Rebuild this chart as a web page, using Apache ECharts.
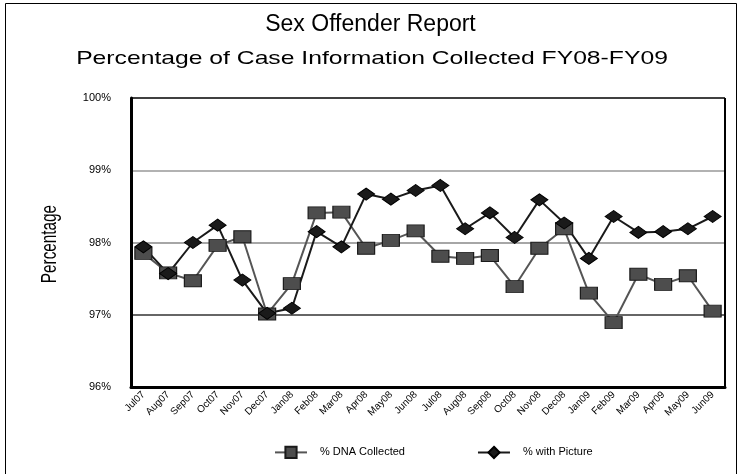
<!DOCTYPE html>
<html>
<head>
<meta charset="utf-8">
<script src="https://cdn.jsdelivr.net/npm/echarts@6/dist/echarts.min.js"></script>
<style>
  html, body { margin: 0; padding: 0; background: #fff; }
  #main { width: 741px; height: 474px; }
</style>
</head>
<body>
<div id="main"></div>
<script>
const months = ['Jul07', 'Aug07', 'Sep07', 'Oct07', 'Nov07', 'Dec07', 'Jan08', 'Feb08', 'Mar08', 'Apr08', 'May08', 'Jun08',
    'Jul08', 'Aug08', 'Sep08', 'Oct08', 'Nov08', 'Dec08', 'Jan09', 'Feb09', 'Mar09', 'Apr09', 'May09', 'Jun09'];
const dnaCollected = [97.85, 97.58, 97.47, 97.96, 98.08, 97.01, 97.43, 98.41, 98.42, 97.92, 98.03, 98.16,
    97.81, 97.78, 97.82, 97.39, 97.92, 98.19, 97.30, 96.89, 97.56, 97.42, 97.54, 97.05];
const withPicture = [97.94, 97.57, 98.00, 98.24, 97.48, 97.02, 97.09, 98.15, 97.94, 98.67, 98.60, 98.72,
    98.79, 98.19, 98.41, 98.07, 98.59, 98.27, 97.78, 98.36, 98.14, 98.15, 98.19, 98.36];

const font = 'Liberation Sans, Arial, sans-serif';
const chart = echarts.init(document.getElementById('main'));

chart.setOption({
    backgroundColor: '#fff',
    animation: false,
    title: {
        text: 'Sex Offender Report',
        left: 'center',
        top: 8,
        textStyle: { fontFamily: font, fontSize: 23, fontWeight: 'normal', color: '#000' }
    },
    legend: {
        bottom: 10,
        left: 269,
        itemGap: 72,
        itemWidth: 32,
        itemHeight: 14,
        textStyle: { fontFamily: font, fontSize: 11, color: '#000', padding: [0, 0, 0, 8] },
        data: ['% DNA Collected', '% with Picture']
    },
    grid: { left: 131, right: 16, top: 98, bottom: 87 },
    xAxis: {
        type: 'category',
        data: months,
        boundaryGap: true,
        axisLine: { lineStyle: { color: '#000', width: 3 } },
        axisTick: { show: false },
        axisLabel: { rotate: 45, fontFamily: font, fontSize: 10, color: '#000', margin: 6, interval: 0 }
    },
    yAxis: {
        type: 'value',
        min: 96,
        max: 100,
        interval: 1,
        axisLine: { show: true, lineStyle: { color: '#000', width: 3 } },
        axisTick: { show: false },
        axisLabel: { formatter: '{value}%', fontFamily: font, fontSize: 11, color: '#000', margin: 20 },
        splitLine: { lineStyle: { color: ['#000', '#333', '#888', '#999', '#000'], width: 1.5 } }
    },
    series: [{
        name: '% DNA Collected',
        type: 'line',
        data: dnaCollected,
        symbol: 'rect',
        symbolSize: [17, 12],
        lineStyle: { color: '#555', width: 2 },
        itemStyle: { color: '#4d4d4d', borderColor: '#1a1a1a', borderWidth: 1 }
    }, {
        name: '% with Picture',
        type: 'line',
        data: withPicture,
        symbol: 'diamond',
        symbolSize: [17, 12],
        lineStyle: { color: '#1a1a1a', width: 2 },
        itemStyle: { color: '#1a1a1a', borderColor: '#000', borderWidth: 1 }
    }]
});

// outer border, right edge of plot frame, wide subtitle and condensed axis title
const tl = chart.convertToPixel({ gridIndex: 0 }, [0, 100]);
const br = chart.convertToPixel({ gridIndex: 0 }, [0, 96]);
chart.setOption({
    graphic: [{
        type: 'rect',
        shape: { x: 5.5, y: 3.5, width: 731, height: 480 },
        style: { fill: 'none', stroke: '#000', lineWidth: 1 },
        silent: true
    }, {
        type: 'line',
        shape: { x1: 725, y1: tl[1], x2: 725, y2: br[1] },
        style: { stroke: '#000', lineWidth: 2 },
        silent: true
    }, {
        type: 'text',
        x: 372,
        y: 59,
        scaleX: 1.3,
        style: {
            text: 'Percentage of Case Information Collected FY08-FY09',
            font: '19px ' + font,
            fill: '#000',
            align: 'center',
            verticalAlign: 'middle'
        },
        silent: true
    }, {
        type: 'text',
        x: 50,
        y: 244,
        rotation: Math.PI / 2,
        scaleX: 0.9,
        scaleY: 1.25,
        style: {
            text: 'Percentage',
            font: '17px ' + font,
            fill: '#000',
            align: 'center',
            verticalAlign: 'middle'
        },
        silent: true
    }]
});
</script>
</body>
</html>
